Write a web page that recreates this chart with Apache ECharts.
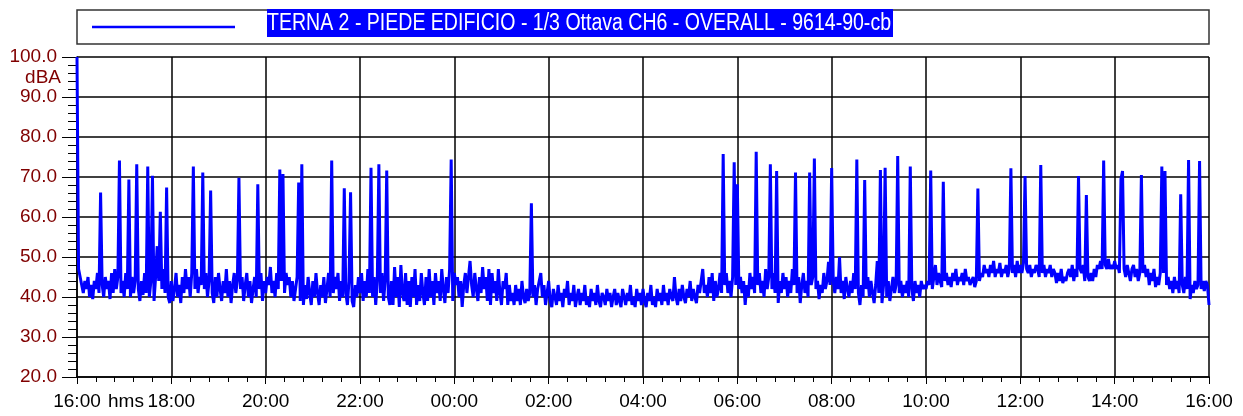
<!DOCTYPE html>
<html><head><meta charset="utf-8">
<script src="https://cdn.jsdelivr.net/npm/echarts@6/dist/echarts.min.js"></script>
<style>html,body{margin:0;padding:0;background:#fff}#c{width:1243px;height:416px}</style>
</head><body><div id="c"></div>
<script>
// ---- data ----
const seriesName = 'TERNA 2 - PIEDE EDIFICIO - 1/3 Ottava CH6 - OVERALL - 9614-90-cb';
const stepMinutes = 2; // one value every 2 minutes, starting 16:00
const xTickLabels = ['16:00','18:00','20:00','22:00','00:00','02:00','04:00','06:00','08:00','10:00','12:00','14:00','16:00'];
const yTickLabels = ['20.0','30.0','40.0','50.0','60.0','70.0','80.0','90.0','100.0'];
const yUnit = 'dBA';
const xUnit = 'hms';
const levels = [
100,47,45,43,41,44,42,45,40,43,39.5,44,42,46,41,66.1,43,40,45,42,
44,39.5,46,41,47,42,45,74.1,41,44,40,46,42,69.4,40,45,41,44,73.2,42,
39,44,40.5,46,41,72.6,40,44,70.3,39,45,52.7,44,61.3,42,47,41,67.4,40,38.5,
44,39,42,46,40,43,38.5,45,41,47,42,45,40,46,72.6,42,47,41,45,43,
71.1,42,46,40,44,66.6,41,38.5,45,40,46,42,39,44,41,47,40,44,38.5,43,
46,41,44,69.8,42,45,39,43,46,40,44,38.5,42,45,40,68.2,42,46,39,44,
41,45,43,47.5,41,44,40,46,42,71.9,44,70.75,41,46,43,45,40,44,39,42,
45,68.6,39,73.2,38,43,39.5,45,41,38,44,40,46,41,38,43,40,45,38.5,42,
46,40,74.1,41,45,42,46,39,44,40,67.2,41,38,44,66.2,39,37.5,43,40,45,
41,46,39,44,40,47,41,72.3,40,45,38,44,73.2,41,46,39,44,71.6,40,38,
44,38,47.5,40,45,37.5,48,41,39,46,38,44,37.5,45,40,47,38,43,39,46,
41,38,45,39,47,40,44,38,46,41,44,39,47,42,38.5,45,41,47,74.4,39,
46,43,45,40,44,37.5,43,46,41,45,49,43,40,46,42,39,45,41,47.5,42,
45,39,47,38,46,41,44,39,47,41,38,44,42,46,38,43,39,41,38,43,
39,42,38,44,40,38.5,42,39,41,63.4,40,43,38,42,44,46,40,43,38,41,
44,39,37.5,42,40,38,43,39,41,37.5,42,40,44,38,41,39,43,37.5,40,42,
38,41,39,43,38,40,37.5,42,39,41,38,43,39,37.5,41,40,38,42,39,41,
37.5,40,42,38,41,39,37.5,42,40,38,41,39,43,38,40,37.5,42,39,41,38,
42,39,37.5,41,39,43,38,40,37.5,42,39,41,38,43,39,41,38,42,40,39,
45,40,38,42,39,43,40,38.5,42,40,44,39,42,40,38.5,43,41,44,47,41,
43,40,45,41,46,39,44,40,42,46,41,75.75,43,46,41,44,40,45,73.7,43,
68.2,42,45,41,44,38,43,40,46,42,45,41,76.3,43,46,41,44,40,47,42,
45,73.2,42,46,41,71.5,38.5,44,41,46,42,45,40,44,41,47,43,71.1,41,45,
38.5,43,46,41,44,40,71.1,43,45,74.6,42,44,39.5,43,41,46,42,44,48.8,43,
72.25,44,41,45,42,50,41,44,39.5,45,42,40,44,41,46,42,74.4,41,38,43,
40,69.25,42,45,40,44,41,38.5,43,49,41,71.75,38.5,43,72.3,40,44,39,42,45,
41,43,75.25,41,44,40,43,41,44,40,72.6,42,39,44,41,43,40,44,42,43,
42,44,43,71.6,42,45,48,43,46,44,42.5,68.8,44,46,43,45,42.5,46,44,47,
43,45,44,46,43,47,44,45,43,42.5,45,42.5,44,67.1,44,46,45,48,46,47,
45,48,46,49,45,47,46,48.5,45,47,46,48,45,47,72.2,46,48,45,49,46,
48,46,48.5,70.25,47,46,48,45,47,46,48,47,45,73,46,48,45,47,46,48,
45,47,46,43.5,46,44,47,43.5,45,44,46,47,45,48,44,47,45,70.25,47,46,
48,44,65.5,45,44,46,44,47,45,48,47,49,47,74.1,48,47,49.5,47,48,47,
49,47,48,46,69.5,71.5,47,45,48,46,44,47,48,45,47,44,46,70.5,46,48,
45,47,43,46,44,47,42.5,45,43,46,72.6,46,71.5,43,45,42,44,41,45,42,
44,41,65.7,43,41,45,42,74.25,39.5,43,41,44,42,43,74,42,44,41.5,44,43,
38
];

// ---- chart ----
const FONT = "'Liberation Sans',Arial,sans-serif";
const chart = echarts.init(document.getElementById('c'), null, {renderer: 'canvas'});
const points = levels.map((v, i) => [i * stepMinutes, v]);

const ctx = document.createElement('canvas').getContext('2d');
const legendFontSize = 23;
ctx.font = legendFontSize + 'px ' + FONT;
const rawW = ctx.measureText(seriesName).width || 600;
const targetW = 624;
const sx = targetW / rawW;

chart.setOption({
  animation: false,
  backgroundColor: '#fff',
  grid: {left: 77, right: 34, top: 57, bottom: 39, containLabel: false},
  xAxis: {
    type: 'value', min: 0, max: 1440, interval: 120,
    axisLine: {show: true, onZero: false, lineStyle: {color: '#000', width: 1.5}},
    axisTick: {show: true, inside: false, length: 7, lineStyle: {color: '#000', width: 1}},
    minorTick: {show: true, splitNumber: 5, length: 5, lineStyle: {color: '#000', width: 1}},
    splitLine: {show: true, lineStyle: {color: '#000', width: 1.5}},
    axisLabel: {
      showMinLabel: true, showMaxLabel: true, margin: 15,
      color: '#000', fontSize: 19, fontFamily: FONT,
      formatter: v => xTickLabels[Math.round(v / 120)]
    }
  },
  yAxis: {
    type: 'value', min: 20, max: 100, interval: 10,
    axisLine: {show: true, onZero: false, lineStyle: {color: '#000', width: 1.5}},
    axisTick: {show: true, inside: false, length: 15, lineStyle: {color: '#000', width: 1}},
    minorTick: {show: true, splitNumber: 5, length: 9, lineStyle: {color: '#000', width: 1}},
    splitLine: {show: true, lineStyle: {color: '#000', width: 1.5}},
    axisLabel: {
      showMinLabel: true, showMaxLabel: true, margin: 20,
      color: '#800000', fontSize: 19, fontFamily: FONT,
      formatter: v => yTickLabels[Math.round((v - 20) / 10)]
    }
  },
  series: [{
    name: seriesName, type: 'line', data: points,
    showSymbol: false, symbol: 'none', smooth: false, sampling: 'none',
    lineStyle: {color: '#0000ff', width: 3},
    itemStyle: {color: '#0000ff'},
    clip: true
  }],
  graphic: [
    {type: 'rect', shape: {x: 77, y: 10, width: 1132, height: 34}, style: {fill: '#fff', stroke: '#333', lineWidth: 1.5}, z: 10},
    {type: 'line', shape: {x1: 92, y1: 27, x2: 235, y2: 27}, style: {stroke: '#0000ff', lineWidth: 2.5}, z: 11},
    {type: 'rect', shape: {x: 267, y: 9, width: targetW + 2, height: 28}, style: {fill: '#0000ff'}, z: 11},
    {type: 'text', x: 267, y: 23.5, scaleX: sx, z: 12,
      style: {text: seriesName, fill: '#fff', font: legendFontSize + 'px ' + FONT, textAlign: 'left', textVerticalAlign: 'middle', verticalAlign: 'middle'}},
    {type: 'text', x: 61, y: 78, z: 12,
      style: {text: yUnit, fill: '#800000', font: '19px ' + FONT, textAlign: 'right', textVerticalAlign: 'middle', verticalAlign: 'middle'}},
    {type: 'text', x: 126, y: 402, z: 12,
      style: {text: xUnit, fill: '#000', font: '19px ' + FONT, textAlign: 'center', textVerticalAlign: 'middle', verticalAlign: 'middle'}}
  ]
});
</script>
</body></html>
